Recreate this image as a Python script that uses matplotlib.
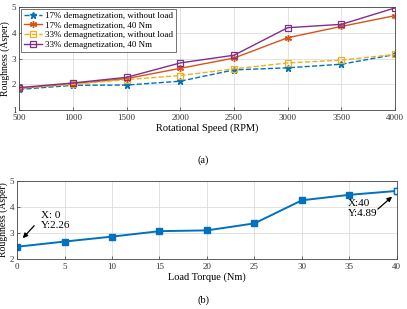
import matplotlib.pyplot as plt

plt.rcParams['font.family'] = ['Liberation Serif', 'DejaVu Serif']

rpm = [500, 1000, 1500, 2000, 2500, 3000, 3500, 4000]
d17_noload = [1.80, 1.96, 1.97, 2.12, 2.56, 2.64, 2.78, 3.16]
d17_40nm = [1.84, 2.02, 2.22, 2.62, 3.02, 3.81, 4.25, 4.67]
d33_noload = [1.85, 2.00, 2.18, 2.34, 2.60, 2.83, 2.94, 3.16]
d33_40nm = [1.87, 2.05, 2.27, 2.83, 3.13, 4.20, 4.33, 4.97]
labels = ['17% demagnetization, without load', '17% demagnetization, 40 Nm',
          '33% demagnetization, without load', '33% demagnetization, 40 Nm']

torque = [0, 5, 10, 15, 20, 25, 30, 35, 40]
rough_torque = [2.47, 2.67, 2.86, 3.07, 3.10, 3.37, 4.26, 4.47, 4.62]

blue = '#0072BD'
orange = '#D95319'
yellow = '#EDB120'
purple = '#7E2F8E'

fig = plt.figure(figsize=(4.07, 3.09), dpi=100)

def style(ax):
    ax.grid(True, color='#dddddd', linewidth=0.6)
    ax.set_axisbelow(True)
    for s in ax.spines.values():
        s.set_color('#444444')
        s.set_linewidth(0.6)
    ax.tick_params(direction='in', length=2, width=0.5, labelsize=6.5, colors='#333333', pad=2)
    ax.tick_params(axis='x', pad=3)

ax1 = fig.add_axes([0.047, 0.644, 0.924, 0.333])
ax1.plot(rpm, d17_noload, '--', color=blue, marker='*', ms=5, lw=1.0, label=labels[0])
ax1.plot(rpm, d17_40nm, '-', color=orange, marker=(6, 2, 0), ms=5, mew=1.0, lw=1.0, label=labels[1])
ax1.plot(rpm, d33_noload, '--', color=yellow, marker='s', mfc='none', ms=4.5, mew=0.9, lw=1.0, label=labels[2])
ax1.plot(rpm, d33_40nm, '-', color=purple, marker='s', mfc='none', ms=4.5, mew=0.9, lw=1.0, label=labels[3])
ax1.set_xlim(500, 4000)
ax1.set_ylim(1, 5)
ax1.set_xticks(rpm)
ax1.set_yticks([1, 2, 3, 4, 5])
style(ax1)
ax1.set_xlabel('Rotational Speed (RPM)', fontsize=7.5, labelpad=1)
ax1.set_ylabel('Roughness (Asper)', fontsize=7, labelpad=1)
leg = ax1.legend(loc='upper left', fontsize=6.5, frameon=True, fancybox=False,
                 borderpad=0.3, labelspacing=0.15, handlelength=2.0, handletextpad=0.4,
                 borderaxespad=0.2)
leg.get_frame().set_edgecolor('#333333')
leg.get_frame().set_linewidth(0.6)
fig.text(0.5, 0.483, '(a)', ha='center', va='center', fontsize=7.5)

ax2 = fig.add_axes([0.042, 0.162, 0.933, 0.252])
ax2.plot(torque, rough_torque, '-', color=blue, marker='s', ms=4, lw=1.4)
ax2.plot(torque[-1], rough_torque[-1], marker='s', ms=4, mfc='white', mec=blue, mew=1.0)
ax2.set_xlim(0, 40)
ax2.set_ylim(2, 5)
ax2.set_xticks(torque)
ax2.set_yticks([2, 3, 4, 5])
style(ax2)
ax2.set_xlabel('Load Torque (Nm)', fontsize=7.5, labelpad=1)
ax2.set_ylabel('Roughness (Asper)', fontsize=7, labelpad=1)
ax2.text(2.5, 3.48, 'X: 0\nY:2.26', fontsize=8, ha='left', va='center', linespacing=1.15)
ax2.annotate('', xy=(0.6, 2.8), xytext=(1.8, 3.28),
             arrowprops=dict(arrowstyle='-|>', color='black', lw=0.9, mutation_scale=7,
                             shrinkA=0, shrinkB=0))
ax2.text(34.8, 3.94, 'X:40\nY:4.89', fontsize=8, ha='left', va='center', linespacing=1.15)
ax2.annotate('', xy=(39.5, 4.4), xytext=(38.0, 3.92),
             arrowprops=dict(arrowstyle='-|>', color='black', lw=0.9, mutation_scale=7,
                             shrinkA=0, shrinkB=0))
fig.text(0.5, 0.03, '(b)', ha='center', va='center', fontsize=7.5)

fig.savefig('out.png', dpi=100)
